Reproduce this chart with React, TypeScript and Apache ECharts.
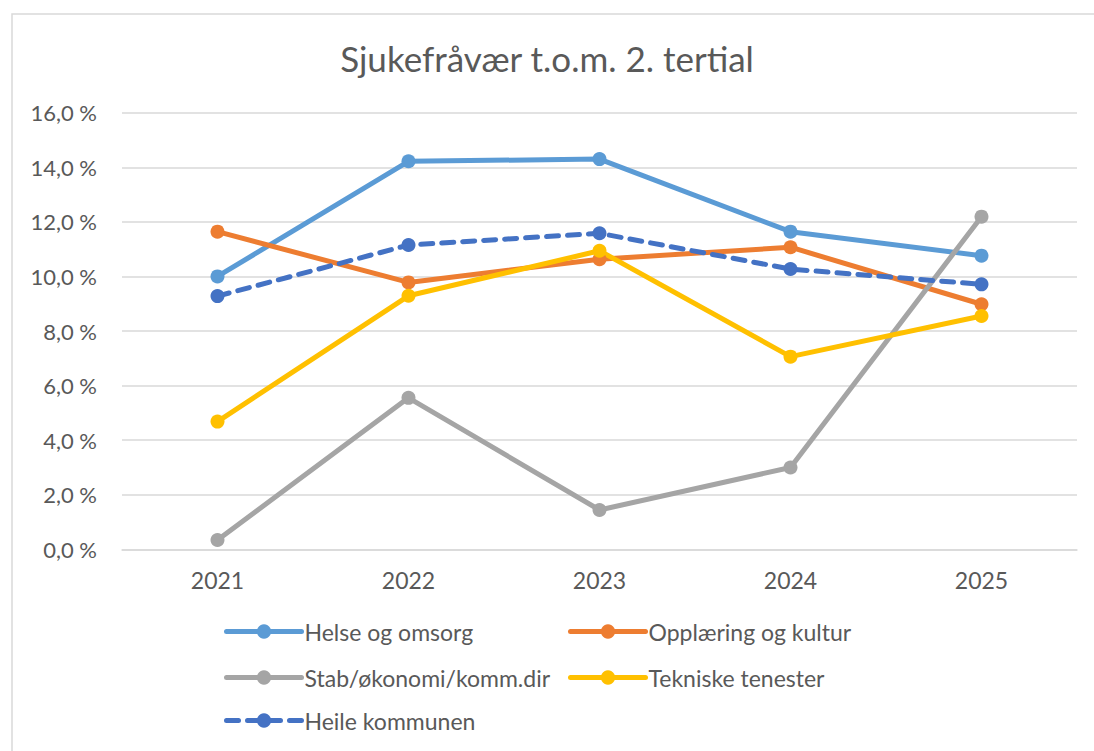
import React, { useEffect, useRef } from "react";
import * as echarts from "echarts";

const categories = ["2021", "2022", "2023", "2024", "2025"];
const helse = [10.0, 14.22, 14.3, 11.64, 10.76];
const opplaering = [11.64, 9.78, 10.63, 11.07, 8.98];
const stab = [0.34, 5.55, 1.44, 3.0, 12.19];
const tekniske = [4.68, 9.29, 10.94, 7.06, 8.55];
const heile = [9.28, 11.15, 11.58, 10.27, 9.71];

const FONT = "Lato, 'Noto Sans', sans-serif";

function mkSeries(name: string, data: number[], color: string, dashed = false) {
  return {
    name,
    type: "line",
    data,
    symbol: "circle",
    symbolSize: 14,
    showSymbol: true,
    lineStyle: { width: 5, color, type: dashed ? [12, 9] : "solid", cap: "round" },
    itemStyle: { color },
    emphasis: { disabled: true },
    z: dashed ? 3 : 2,
  };
}

export default function App() {
  const ref = useRef<HTMLDivElement>(null);
  useEffect(() => {
    document.body.style.margin = "0";
    const chart = echarts.init(ref.current!, null, { renderer: "svg" });
    const legendText = { fontSize: 23, color: "#595959", fontFamily: FONT };
    const mkLegend = (name: string, left: number, cy: number) => ({
      orient: "horizontal",
      left,
      top: cy - 12,
      itemWidth: 75,
      itemHeight: 18,
      itemGap: 0,
      padding: 0,
      textStyle: { ...legendText, padding: [0, 0, 0, -2] },
      lineStyle: { width: 5, type: "inherit" },
      data: [name],
    });
    chart.setOption({
      animation: false,
      backgroundColor: "#ffffff",
      title: {
        text: "Sjukefråvær t.o.m. 2. tertial",
        left: "center",
        top: 35,
        textStyle: { fontSize: 35, fontWeight: "normal", color: "#595959", fontFamily: FONT },
      },
      graphic: [
        {
          type: "rect",
          shape: { x: 12, y: 14, width: 1200, height: 800 },
          style: { fill: "none", stroke: "#D9D9D9", lineWidth: 1.5 },
          silent: true,
        },
      ],
      grid: { left: 122, right: 17, top: 112.7, bottom: 201.7 },
      legend: [
        mkLegend("Helse og omsorg", 224, 632),
        mkLegend("Stab/økonomi/komm.dir", 224, 678),
        mkLegend("Heile kommunen", 224, 721),
        mkLegend("Opplæring og kultur", 568, 632),
        mkLegend("Tekniske tenester", 568, 678),
      ],
      xAxis: {
        type: "category",
        data: categories,
        boundaryGap: true,
        axisLine: { show: true, lineStyle: { color: "#D9D9D9", width: 1.5 } },
        axisTick: { show: false },
        axisLabel: { fontSize: 23, color: "#595959", fontFamily: FONT, margin: 19 },
      },
      yAxis: {
        type: "value",
        min: 0,
        max: 16,
        interval: 2,
        axisLine: { show: false },
        axisTick: { show: false },
        splitLine: { lineStyle: { color: "#D9D9D9", width: 1.5 } },
        axisLabel: {
          fontSize: 22,
          color: "#595959",
          fontFamily: FONT,
          margin: 25,
          formatter: (v: number) => v.toFixed(1).replace(".", ",") + " %",
        },
      },
      series: [
        mkSeries("Helse og omsorg", helse, "#5B9BD5"),
        mkSeries("Opplæring og kultur", opplaering, "#ED7D31"),
        mkSeries("Stab/økonomi/komm.dir", stab, "#A5A5A5"),
        mkSeries("Tekniske tenester", tekniske, "#FFC000"),
        mkSeries("Heile kommunen", heile, "#4472C4", true),
      ],
    });
    return () => chart.dispose();
  }, []);
  return <div ref={ref} style={{ width: 1094, height: 751 }} />;
}
